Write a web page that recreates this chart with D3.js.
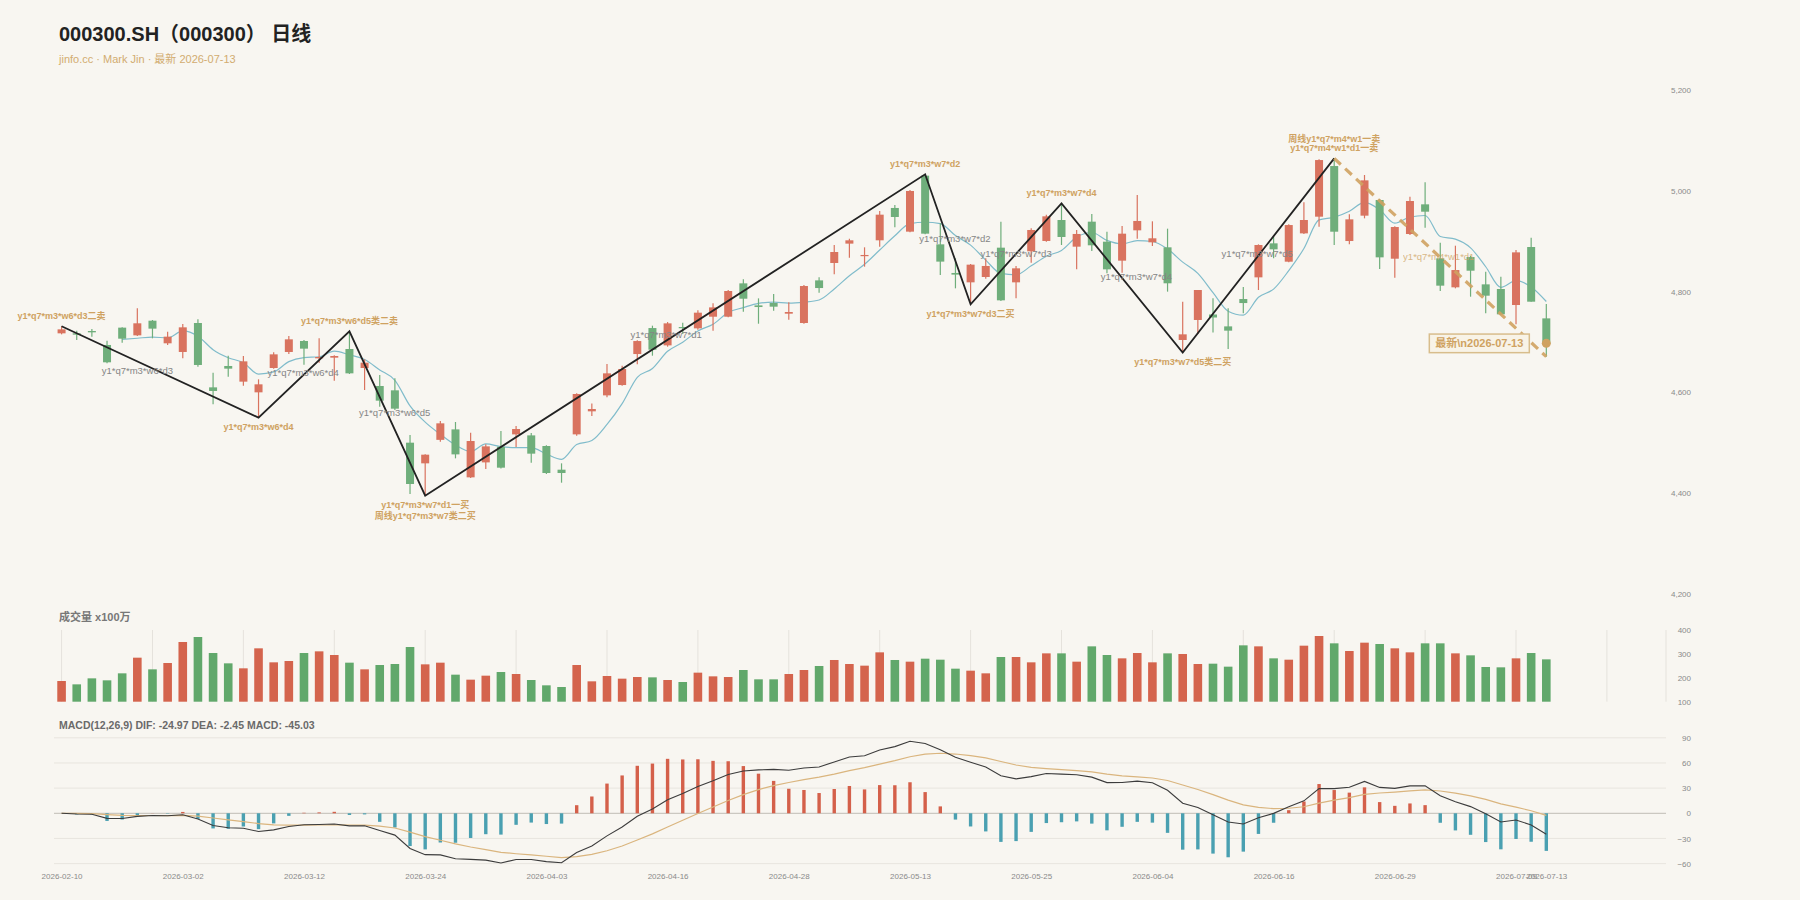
<!DOCTYPE html>
<html><head><meta charset="utf-8">
<script src="https://cdn.jsdelivr.net/npm/d3@7"></script>
<style>
body{margin:0;background:#f8f6f1;}
svg{display:block;font-family:"Liberation Sans","Noto Sans CJK SC",sans-serif;}
</style></head><body>
<svg id="c" width="1800" height="900"></svg>
<script>
const dates = ["2026-02-10","2026-02-11","2026-02-12","2026-02-13","2026-02-24","2026-02-25","2026-02-26","2026-02-27","2026-03-02","2026-03-03","2026-03-04","2026-03-05","2026-03-06","2026-03-09","2026-03-10","2026-03-11","2026-03-12","2026-03-13","2026-03-16","2026-03-17","2026-03-18","2026-03-19","2026-03-20","2026-03-23","2026-03-24","2026-03-25","2026-03-26","2026-03-27","2026-03-30","2026-03-31","2026-04-01","2026-04-02","2026-04-03","2026-04-07","2026-04-08","2026-04-09","2026-04-10","2026-04-13","2026-04-14","2026-04-15","2026-04-16","2026-04-17","2026-04-20","2026-04-21","2026-04-22","2026-04-23","2026-04-24","2026-04-27","2026-04-28","2026-04-29","2026-04-30","2026-05-06","2026-05-07","2026-05-08","2026-05-11","2026-05-12","2026-05-13","2026-05-14","2026-05-15","2026-05-18","2026-05-19","2026-05-20","2026-05-21","2026-05-22","2026-05-25","2026-05-26","2026-05-27","2026-05-28","2026-05-29","2026-06-01","2026-06-02","2026-06-03","2026-06-04","2026-06-05","2026-06-08","2026-06-09","2026-06-10","2026-06-11","2026-06-12","2026-06-15","2026-06-16","2026-06-17","2026-06-18","2026-06-22","2026-06-23","2026-06-24","2026-06-25","2026-06-26","2026-06-29","2026-06-30","2026-07-01","2026-07-02","2026-07-03","2026-07-06","2026-07-07","2026-07-08","2026-07-09","2026-07-10","2026-07-13"];
const open  = [4716.9,4717.0,4721.5,4693.8,4728.2,4712.9,4742.0,4697.1,4679.9,4737.4,4609.7,4652.1,4621.0,4599.8,4648.1,4679.9,4701.7,4667.3,4668.6,4685.8,4648.1,4612.4,4603.8,4499.9,4458.9,4505.5,4526.3,4431.1,4460.8,4491.9,4516.4,4514.4,4493.3,4446.3,4516.4,4562.1,4593.8,4614.3,4675.8,4727.4,4693.0,4729.4,4726.8,4749.9,4749.9,4816.1,4772.4,4777.1,4755.9,4737.4,4822.0,4856.5,4894.9,4870.4,4901.5,4965.7,4918.7,5029.8,4893.5,4836.7,4818.1,4828.7,4886.9,4818.1,4879.7,4900.2,4941.8,4888.9,4938.5,4898.8,4861.1,4921.3,4897.5,4887.6,4703.7,4743.4,4754.3,4730.7,4785.0,4828.0,4895.5,4859.1,4915.3,4948.4,5048.9,4900.1,4950.4,4981.5,4865.0,4914.0,4972.9,4865.7,4808.2,4868.3,4814.1,4804.9,4773.1,4888.2,4746.6];
const high  = [4731.0,4722.0,4725.5,4702.4,4729.0,4766.5,4743.4,4720.2,4735.4,4744.7,4638.8,4672.6,4671.9,4625.6,4679.2,4711.6,4703.7,4707.0,4673.2,4720.9,4665.3,4634.2,4627.6,4515.2,4477.0,4543.0,4540.9,4519.7,4496.6,4523.0,4533.0,4519.1,4494.6,4458.9,4597.8,4577.9,4656.0,4652.7,4703.0,4732.1,4739.3,4738.0,4762.5,4776.4,4802.8,4824.0,4786.3,4794.9,4778.4,4812.8,4828.0,4892.2,4904.8,4887.6,4959.7,4971.6,5001.4,5032.5,4935.2,4865.8,4854.5,4865.8,4938.5,4850.6,4925.3,4952.4,4974.9,4922.0,4953.7,4918.7,4929.9,4991.5,4939.2,4924.6,4779.8,4803.0,4786.4,4766.5,4808.8,4893.5,4908.7,4933.2,4976.8,5062.2,5064.2,4953.0,5031.1,4983.4,4929.2,4988.1,5016.5,4896.8,4890.8,4871.0,4839.2,4829.3,4882.2,4906.7,4775.1];
const low   = [4714.9,4703.7,4710.3,4657.4,4698.4,4711.6,4707.0,4693.8,4667.3,4650.8,4576.0,4630.9,4613.1,4549.5,4646.8,4675.9,4654.7,4658.7,4623.0,4636.2,4604.4,4571.4,4564.8,4398.1,4394.8,4501.9,4468.8,4429.8,4447.6,4448.9,4491.3,4460.2,4437.7,4420.5,4513.8,4552.8,4589.9,4613.0,4655.3,4672.5,4690.4,4715.5,4724.1,4722.1,4748.6,4759.8,4736.0,4761.8,4744.0,4736.0,4797.6,4834.0,4867.1,4849.2,4888.9,4927.3,4917.4,4913.4,4832.7,4806.2,4774.5,4825.4,4781.1,4786.4,4857.2,4898.8,4892.2,4843.9,4880.3,4836.0,4837.3,4904.8,4890.2,4799.6,4678.6,4715.6,4718.5,4685.8,4756.6,4802.9,4865.7,4857.8,4914.0,4928.5,4892.2,4893.5,4945.1,4844.5,4827.3,4912.0,4926.6,4800.9,4806.2,4789.6,4756.6,4753.3,4734.7,4779.7,4670.6];
const close = [4724.8,4714.3,4718.9,4659.4,4706.3,4736.8,4726.2,4710.3,4728.8,4654.1,4602.5,4646.8,4661.3,4615.7,4675.2,4705.0,4686.5,4669.9,4671.9,4637.5,4658.7,4583.3,4567.4,4417.9,4476.1,4538.3,4476.7,4503.2,4492.6,4450.3,4527.0,4478.1,4439.7,4439.7,4596.5,4566.7,4637.5,4646.1,4701.6,4684.4,4736.7,4727.4,4757.9,4768.4,4800.9,4785.6,4769.1,4769.8,4759.2,4810.8,4806.8,4878.3,4901.5,4872.4,4952.4,4947.8,4999.4,4914.7,4859.2,4833.4,4853.2,4850.6,4782.4,4845.9,4922.0,4949.1,4908.1,4914.1,4891.6,4843.9,4914.7,4939.9,4905.5,4816.2,4714.9,4802.9,4748.3,4722.2,4777.0,4892.2,4883.6,4931.8,4941.8,5060.8,4918.6,4943.1,5020.5,4867.7,4927.9,4979.5,4958.3,4811.5,4842.5,4841.2,4791.6,4754.6,4877.6,4779.7,4697.0];
const volume = [186.6,172.6,197.7,189.4,218.7,284.2,235.4,261.9,349.8,370.7,303.7,260.5,239.6,323.3,264.7,270.3,303.7,310.7,295.4,263.3,235.4,253.5,257.7,328.8,256.3,263.3,213.1,192.2,208.9,224.2,215.9,190.8,168.5,161.5,253.5,185.2,207.5,196.4,203.3,201.9,190.8,182.4,221.5,206.1,203.3,232.6,193.6,193.6,215.9,232.6,249.4,274.5,257.7,250.8,306.5,274.5,267.5,280.0,275.8,238.2,229.8,218.7,287.0,287.0,264.7,302.3,302.3,267.5,331.6,295.4,281.4,303.7,264.7,302.3,299.6,257.7,259.1,246.6,335.8,331.6,281.4,275.8,334.4,374.9,344.2,312.1,347.0,341.4,323.3,306.5,344.2,344.2,302.3,294.0,245.2,243.8,281.4,303.7,277.2];
const priceTicks = [4200,4400,4600,4800,5000,5200];
const volTicks = [100,200,300,400];
const macdTicks = [-60,-30,0,30,60,90];
const dateTickIdx = [0,8,16,24,32,40,48,56,64,72,80,88,96,98];
// stroke (bi) pivots
const pivotIdx   = [0,13,19,24,57,60,66,74,84];
const pivotPrice = [4731.0,4549.5,4720.9,4394.8,5032.5,4774.5,4974.9,4678.6,5064.2];
const pivotSide  = ["top","bottom","top","bottom","top","bottom","top","bottom","top"];
const pivotText  = [["y1*q7*m3*w6*d3二卖"],["y1*q7*m3*w6*d4"],["y1*q7*m3*w6*d5类二卖"],["y1*q7*m3*w7*d1一买","周线y1*q7*m3*w7类二买"],["y1*q7*m3*w7*d2"],["y1*q7*m3*w7*d3二买"],["y1*q7*m3*w7*d4"],["y1*q7*m3*w7*d5类二买"],["周线y1*q7*m4*w1一卖","y1*q7*m4*w1*d1一卖"]];
// pending stroke
const pendingIdx = [84,98];
const pendingPrice = [5064.2,4670.6];
// segment labels
const segIdx   = [5.0,15.95,21.99,39.9,58.96,63.0,70.95,78.92,90.9];
const segPrice = [4642.1,4638.2,4560.2,4714.9,4904.1,4875.7,4828.7,4874.3,4869.0];
const segText  = ["y1*q7*m3*w6*d3","y1*q7*m3*w6*d4","y1*q7*m3*w6*d5","y1*q7*m3*w7*d1","y1*q7*m3*w7*d2","y1*q7*m3*w7*d3","y1*q7*m3*w7*d4","y1*q7*m3*w7*d5","y1*q7*m4*w1*d1"];
const segPending = [false,false,false,false,false,false,false,false,true];
const latestText = "最新\\n2026-07-13";
const macdTitle = "MACD(12,26,9) DIF: -24.97 DEA: -2.45 MACD: -45.03";

// indicators
const n = close.length;
const ma5 = close.map((c,i)=> i<4 ? null : d3.mean(close.slice(i-4,i+1)));
const dif=[],dea=[],hist=[];
let e12=close[0], e26=close[0], d=0;
for(let i=0;i<n;i++){
  if(i>0){ e12 = e12 + (2/13)*(close[i]-e12); e26 = e26 + (2/27)*(close[i]-e26); }
  const df = e12-e26;
  d = i===0 ? df : d + 0.2*(df-d);
  dif.push(df); dea.push(d); hist.push(2*(df-d));
}

const UP_C="#d9735f", DN_C="#6fae7b", UP_V="#d4644d", DN_V="#61a86b", TAN="#cfa261";
const svg = d3.select("#c");
svg.append("rect").attr("width",1800).attr("height",900).attr("fill","#f8f6f1");

const x = d3.scaleLinear().domain([-0.5,105.9]).range([54,1666]);
const yP = d3.scaleLinear().domain([4200,5200]).range([593.8,89.9]);
const yV = d3.scaleLinear().domain([100,400]).range([701.7,630]);
const yM = d3.scaleLinear().domain([-60,90]).range([863.6,737.8]);
const idx = d3.range(n);

// titles
svg.append("text").attr("x",59).attr("y",41).attr("font-size",20).attr("font-weight","bold").attr("fill","#222").text("000300.SH（000300） 日线");
svg.append("text").attr("x",59).attr("y",62.5).attr("font-size",11).attr("fill","#d2ac70").text("jinfo.cc · Mark Jin · 最新 2026-07-13");

// price axis
const axP = svg.append("g").attr("transform","translate(1691,0)").call(d3.axisRight(yP).tickValues(priceTicks).tickSize(0).tickFormat(d3.format(",")));
axP.select(".domain").remove();
axP.selectAll("text").attr("x",0).attr("text-anchor","end").attr("fill","#8a8a8a").attr("font-size",8).attr("font-family","Liberation Sans");

// MA5
svg.append("path").datum(idx.filter(i=>ma5[i]!==null))
  .attr("fill","none").attr("stroke","#80bccb").attr("stroke-width",1.2)
  .attr("d", d3.line().x(i=>x(i)).y(i=>yP(ma5[i])).curve(d3.curveMonotoneX));

// candles
const cw = 8;
const cg = svg.append("g");
cg.selectAll("line").data(idx).join("line")
  .attr("x1",i=>x(i)).attr("x2",i=>x(i)).attr("y1",i=>yP(high[i])).attr("y2",i=>yP(low[i]))
  .attr("stroke",i=>close[i]>=open[i]?UP_C:DN_C).attr("stroke-width",1.2);
cg.selectAll("rect").data(idx).join("rect")
  .attr("x",i=>x(i)-cw/2).attr("width",cw)
  .attr("y",i=>yP(Math.max(open[i],close[i])))
  .attr("height",i=>Math.max(1.2, Math.abs(yP(open[i])-yP(close[i]))))
  .attr("fill",i=>close[i]>=open[i]?UP_C:DN_C);

// strokes
svg.append("path").datum(d3.range(pivotIdx.length))
  .attr("fill","none").attr("stroke","#222").attr("stroke-width",1.8)
  .attr("d", d3.line().x(k=>x(pivotIdx[k])).y(k=>yP(pivotPrice[k])));
svg.append("path").datum([0,1])
  .attr("fill","none").attr("stroke",TAN).attr("stroke-width",3.2).attr("stroke-dasharray","9,6").attr("opacity",0.9)
  .attr("d", d3.line().x(k=>x(pendingIdx[k])).y(k=>yP(pendingPrice[k])));

// segment labels
svg.append("g").selectAll("text").data(d3.range(segIdx.length)).join("text")
  .attr("x",k=>x(segIdx[k])).attr("y",k=>yP(segPrice[k])).attr("dy","0.35em")
  .attr("text-anchor","middle").attr("font-size",9.5)
  .attr("fill",k=>segPending[k]?TAN:"#858585").attr("opacity",k=>segPending[k]?0.75:1)
  .text(k=>segText[k]);

// pivot labels
const pl = svg.append("g");
pivotIdx.forEach((pi,k)=>{
  const lines = pivotText[k];
  const py = yP(pivotPrice[k]);
  lines.forEach((t,j)=>{
    let cy;
    if(pivotSide[k]==="top") cy = py - 10 - (lines.length-1-j)*9.5;
    else cy = py + 9.5 + j*10.5;
    pl.append("text").attr("x",x(pi)).attr("y",cy).attr("dy","0.35em")
      .attr("text-anchor","middle").attr("font-size",9).attr("font-weight","bold")
      .attr("fill",TAN).text(t);
  });
});

// latest marker
const li = n-1;
svg.append("circle").attr("cx",x(li)).attr("cy",yP(close[li])).attr("r",4.5).attr("fill",TAN);
const lbx = x(li)-17, lby = yP(close[li]);
svg.append("rect").attr("x",lbx-100).attr("y",lby-9.3).attr("width",100).attr("height",18.6)
  .attr("fill","#f8f3e7").attr("stroke","#d8bd8c").attr("stroke-width",1.5);
svg.append("text").attr("x",lbx-50).attr("y",lby).attr("dy","0.36em").attr("text-anchor","middle")
  .attr("font-size",11).attr("font-weight","bold").attr("fill",TAN).text(latestText);

// volume panel
svg.append("text").attr("x",59).attr("y",621).attr("font-size",11).attr("font-weight","bold").attr("fill","#777").text("成交量 x100万");
const vg = svg.append("g");
vg.selectAll("line.g").data(d3.range(0,104,6)).join("line").attr("class","g")
  .attr("x1",i=>x(i)).attr("x2",i=>x(i)).attr("y1",630).attr("y2",701.7)
  .attr("stroke","#e5e2dc").attr("stroke-width",1);
vg.append("line").attr("x1",1666).attr("x2",1666).attr("y1",630).attr("y2",701.7).attr("stroke","#e5e2dc");
vg.selectAll("rect").data(idx).join("rect")
  .attr("x",i=>x(i)-4.3).attr("width",8.6)
  .attr("y",i=>yV(volume[i])).attr("height",i=>yV(100)-yV(volume[i]))
  .attr("fill",i=>close[i]>=open[i]?UP_V:DN_V);
const axV = svg.append("g").attr("transform","translate(1691,0)").call(d3.axisRight(yV).tickValues(volTicks).tickSize(0));
axV.select(".domain").remove();
axV.selectAll("text").attr("x",0).attr("text-anchor","end").attr("fill","#8a8a8a").attr("font-size",8).attr("font-family","Liberation Sans");

// MACD panel
svg.append("text").attr("x",59).attr("y",728.5).attr("font-size",10.5).attr("font-weight","bold").attr("fill","#6a6a6a").text(macdTitle);
const mg = svg.append("g");
mg.selectAll("line").data(macdTicks).join("line")
  .attr("x1",54).attr("x2",1666).attr("y1",v=>yM(v)).attr("y2",v=>yM(v))
  .attr("stroke",v=>v===0?"#cbc8c1":"#e8e5df").attr("stroke-width",v=>v===0?1.3:1);
mg.selectAll("rect").data(idx).join("rect")
  .attr("x",i=>x(i)-1.7).attr("width",3.4)
  .attr("y",i=>Math.min(yM(0),yM(hist[i]))).attr("height",i=>Math.abs(yM(hist[i])-yM(0)))
  .attr("fill",i=>hist[i]>=0?"#d4604a":"#4aa0b1");
mg.append("path").datum(idx).attr("fill","none").attr("stroke","#dab57e").attr("stroke-width",1.2)
  .attr("d",d3.line().x(i=>x(i)).y(i=>yM(dea[i])));
mg.append("path").datum(idx).attr("fill","none").attr("stroke","#3c3c3c").attr("stroke-width",1.1)
  .attr("d",d3.line().x(i=>x(i)).y(i=>yM(dif[i])));
const axM = svg.append("g").attr("transform","translate(1691,0)").call(d3.axisRight(yM).tickValues(macdTicks).tickSize(0));
axM.select(".domain").remove();
axM.selectAll("text").attr("x",0).attr("text-anchor","end").attr("fill","#8a8a8a").attr("font-size",8).attr("font-family","Liberation Sans");

// date axis
const axD = svg.append("g").attr("transform","translate(0,870)")
  .call(d3.axisBottom(x).tickValues(dateTickIdx).tickSize(0).tickFormat(i=>dates[i]));
axD.select(".domain").remove();
axD.selectAll("text").attr("fill","#8a8a8a").attr("font-size",8).attr("font-family","Liberation Sans");
</script></body></html>
